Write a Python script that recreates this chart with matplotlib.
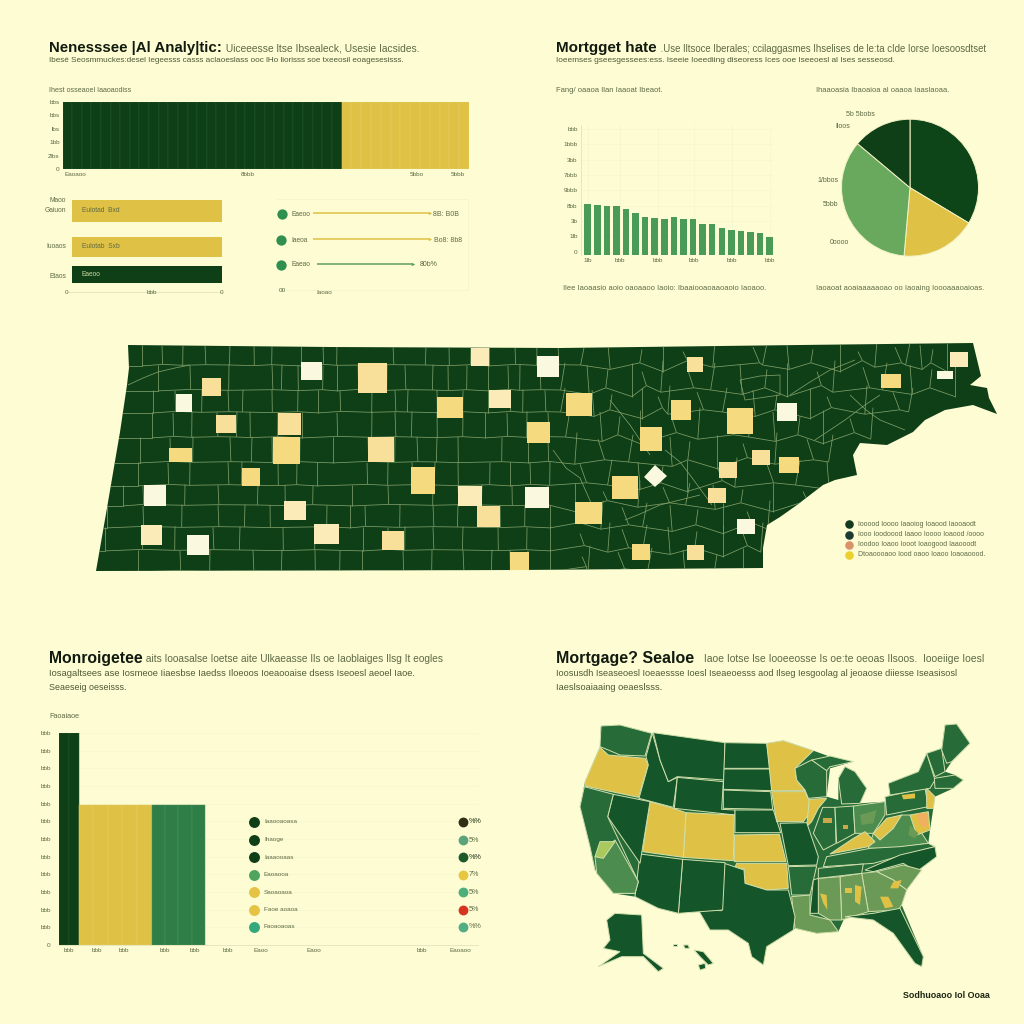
import numpy as np
import matplotlib
matplotlib.use('Agg')
import matplotlib.pyplot as plt
from matplotlib.patches import Polygon, Rectangle
from matplotlib.collections import LineCollection

BG = '#FDFCD3'; DARK = '#0F3F17'; YEL = '#DFC145'; GRN = '#4A9A58'; LGRN = '#69A95D'
TXT = '#5E6A45'; GRID = '#EEF0C2'
plt.rcParams['font.family'] = ['Liberation Sans', 'DejaVu Sans']

# ---------- data: top-left panel ----------
top_dark_vals = [100] * 29
top_yellow_vals = [100] * 13
top_yticks = [0, 20, 40, 60, 80, 100]
top_ylabels = ['0', '2lbs', '1bb', 'lbs', 'bbs', 'bbs']
hbar_labels = ['Gaiuon', 'Iuoaos', 'Etaos']
hbar_vals = [100, 100, 100]
hbar_colors = [YEL, YEL, DARK]
hbar_inner = ['Eulotad  Bxd', 'Eulotab  Sxb', 'Eaeoo']
lolli_labels = ['Eaeoo', 'Iaeoa', 'Eaeao']
lolli_start = [10, 10, 13]
lolli_end = [100, 100, 87]
lolli_colors = [YEL, YEL, '#5FA05E']
lolli_text = ['8B: B0B', 'Bo8: 8b8', '80b%']

# ---------- data: top-right panel ----------
rate_vals = [152, 151, 148, 147, 139, 126, 114, 112, 108, 114, 108, 107, 94, 94, 81, 76, 73, 69, 65, 53]
rate_yticks = [10, 56, 102, 148, 194, 240, 286, 332, 378]
rate_ylabels = ['0', '1lb', '3b', '8bb', '9bbb', '7bbb', '3bb', '1bbb', 'bbb']
rate_xlabels = ['1lb', 'bbb', 'bbb', 'bbb', 'bbb', 'bbb']
rate_xticks = [0.0, 3.4, 7.3, 11.1, 15.1, 19.0]
pie_vals = [121, 64, 125, 50]
pie_colors = ['#0D4519', YEL, LGRN, '#0F3F17']
pie_labels = [('5b 5bobs', 860, 114), ('Iloos', 843, 126), ('1/bbos', 828, 180), ('5bbb', 830, 205), ('0oooo', 839, 243)]

# ---------- data: bottom-left panel ----------
lower_dark = [240, 240]
lower_yellow = [158, 158, 158, 158, 158]
lower_green = [158, 158, 158, 158]
lower_dark_w = [9.8, 9.8]
lower_yellow_w = [14.6] * 5
lower_green_w = [13.3] * 4
lower_yticks = list(range(0, 241, 20))
legend_labels = ['Iaaooaoasa', 'Ihaoge', 'Iaaaooaas', 'Eaoaooa', 'Saoaoaoa', 'Faoe aoaoa', 'Faoaoaoas']
legend_left_col = [DARK, DARK, DARK, '#4FA55E', '#E5C445', '#E5C445', '#35A77C']
legend_right_col = ['#2E2F14', '#5BA47A', '#1C5A2C', '#E7C640', '#4EAE7A', '#D5351E', '#52AE82']
legend_pct = ['%%', '5%', '%%', '7%', '5%', '5%', '%%']
legend_y = [821.7, 840, 857.3, 875, 892.3, 909.7, 927]

# ---------- data: county map (page pixels) ----------
tn_outline = [(128,345),(330,347),(560,348),(800,345),(973,343),(981,376),(970,385),(987,388),(989,398),
 (997,414),(973,405),(945,410),(925,420),(913,432),(887,445),(860,443),(853,455),(857,475),(835,480),(823,485),
 (797,505),(780,517),(767,525),(763,548),(763,568),(520,570),(96,571),(107,508),(120,432),(127,385),(129,368)]
county_rows = [
 (345,365,[142,162,183,205,230,254,272,301,323,337,393,426,449,471,489,515,537,558,585,608,642,663,683,715,753,767,787,813,840,858,877,895,910,920,933,947]),
 (365,390,[158,190,229,272,282,298,323,337,358,387,405,433,448,467,488,508,520,540,565,587,608,632,642,663,687,715,740,767,787,817,835,863,887,910,932,955]),
 (390,412,[153,175,202,228,243,272,298,318,340,372,395,408,437,463,488,510,523,545,565,592,612,642,658,670,697,727,753,777,810,827,867,893,913]),
 (412,437,[152,173,192,217,237,250,278,302,337,372,395,412,437,463,485,507,527,548,570,600,620,640,672,700,727,753,773,800,823,850,873]),
 (437,462,[140,170,193,230,252,272,300,333,368,395,417,437,458,502,528,548,577,598,633,670,690,717,743,777,807,833]),
 (462,485,[138,168,190,228,242,278,297,317,367,388,412,435,458,490,510,530,550,580,612,638,663,687,718,737,767,800,827]),
 (485,505,[123,143,185,218,258,285,313,352,388,433,458,482,512,548,575,603,640,663,690,713,743,773,803]),
 (505,527,[107,143,182,218,245,270,327,350,365,400,433,458,500,525,550,575,603,622,647,670,698,723,747,770]),
 (527,550,[105,142,175,213,240,283,315,363,388,405,433,463,498,527,550,580,610,622,647,668,697,723,743,763]),
 (550,571,[138,180,210,253,282,315,340,362,403,432,463,492,510,528,550,582,590,618,652,683,717,743]),
]
county_curves = [
 [(553,450),(566,468),(580,478),(592,505)],
 [(610,400),(622,415),(630,425),(650,455)],
 [(665,450),(680,462),(690,475),(712,505)],
 [(740,380),(760,376),(780,375),(780,395),(745,400),(740,380)],
 [(815,440),(830,430),(845,420),(865,405),(880,395)],
 [(790,395),(810,382),(830,370),(855,360)],
 [(850,395),(866,410),(880,420),(905,430)],
 [(625,520),(640,514),(660,505),(680,500),(700,495)],
 [(128,385),(143,378),(158,372),(175,368),(190,365)],
]
tile_rects = [(202,378,221,396,'m'),(176,394,192,412,'p'),(301,362,322,380,'p'),(358,363,387,393,'m'),
 (471,348,489,366,'l'),(489,390,511,408,'l'),(437,397,463,418,'s'),(216,415,236,433,'m'),(278,413,301,435,'m'),
 (273,437,300,464,'s'),(169,448,192,462,'s'),(368,437,394,462,'m'),(242,468,260,486,'s'),(411,467,435,494,'s'),
 (527,422,550,443,'s'),(458,486,482,506,'l'),(477,506,500,527,'m'),(525,487,549,508,'p'),(144,485,166,506,'p'),
 (141,525,162,545,'l'),(187,535,209,555,'p'),(284,501,306,520,'l'),(314,524,339,544,'l'),(382,531,404,550,'m'),
 (510,552,529,570,'s'),(537,356,559,377,'p'),(687,357,703,372,'m'),(566,393,592,416,'s'),(671,400,691,420,'s'),
 (727,408,753,434,'s'),(777,403,797,421,'p'),(640,427,662,451,'s'),(881,374,901,388,'s'),(950,352,968,367,'l'),
 (937,371,953,379,'p'),(752,450,770,465,'m'),(779,457,799,473,'s'),(719,462,737,478,'m'),(612,476,638,499,'s'),
 (708,488,726,503,'m'),(575,502,602,524,'s'),(737,519,755,534,'p'),(632,544,650,560,'s'),(687,545,704,560,'m')]
tile_diamond = [(655,465),(667,476),(655,487),(644,477)]
tile_cols = {'s': '#F5DA80', 'm': '#F8E09A', 'l': '#FBEBB8', 'p': '#FBF8E0'}
map_legend_y = [524, 535, 545, 555]
map_legend_col = ['#123A1E', '#1E3A35', '#D8936A', '#EBD02E']
map_legend_txt = ['Iooood Ioooo Iaaoiog Ioaood Iaooaodt', 'Iooo Ioodoood Iaaoo Ioooo Ioaood /oooo',
                  'Ioodoo Ioaoo Iooot Ioaogood Iaaooodt', 'Dtoaoooaoo Iood oaoo Ioaoo Ioaoaoood.']

# ---------- data: US map (picture coordinates of the map panel) ----------
Y = YEL; D = '#14552A'; M = '#266B38'; L = '#4C8C4E'; G = '#6A9A55'
us_outline = [(183,78),(240,75),(335,100),(555,128),(680,130),(730,122),(820,152),(870,170),(940,185),(870,205),
 (860,290),(895,300),(895,235),(915,200),(945,215),(980,265),(960,310),(1035,305),(1050,285),(1045,250),(1135,215),
 (1160,160),(1205,145),(1215,75),(1250,72),(1290,130),(1235,185),(1215,215),(1245,225),(1270,240),(1240,265),
 (1185,290),(1180,325),(1170,390),(1165,430),(1190,470),(1130,515),(1100,570),(1085,615),(1150,770),(1145,800),
 (1125,790),(1060,700),(1000,660),(915,650),(895,695),(830,700),(765,685),(760,690),(680,740),(670,795),(635,770),
 (625,730),(565,690),(510,690),(475,630),(415,640),(355,625),(285,590),(220,580),(165,510),(150,440),(120,320),
 (135,245),(180,140)]
us_states = [
 (M,[(183,78),(240,75),(335,100),(315,168),(240,165),(205,150),(180,140)]),
 (Y,[(180,142),(205,165),(315,175),(325,195),(295,292),(135,258),(135,245)]),
 (D,[(337,100),(360,180),(385,245),(412,232),(400,322),(297,295),(325,195),(318,170)]),
 (D,[(340,98),(555,128),(552,240),(412,230),(385,245),(360,180)]),
 (D,[(412,232),(550,245),(545,328),(585,330),(585,345),(403,325)]),
 (D,[(555,128),(680,130),(692,205),(552,205)]),
 (D,[(552,207),(692,207),(695,272),(550,268)]),
 (D,[(550,270),(692,275),(698,328),(550,325)]),
 (D,[(585,330),(700,330),(722,398),(585,398)]),
 (Y,[(680,130),(730,122),(820,152),(765,205),(770,240),(795,272),(695,272)]),
 (M,[(765,205),(815,180),(860,210),(860,290),(805,295),(795,270),(770,240)]),
 (M,[(815,180),(870,168),(940,185),(870,200),(860,212)]),
 (M,[(895,235),(915,200),(945,215),(980,265),(960,310),(905,312)]),
 (Y,[(695,275),(795,275),(815,320),(805,345),(790,365),(710,365)]),
 (Y,[(808,298),(860,295),(835,325),(815,365),(800,380)]),
 (M,[(848,322),(885,322),(888,430),(850,450),(820,400)]),
 (M,[(885,322),(940,318),(945,400),(890,430)]),
 (L,[(940,318),(1035,305),(1035,345),(1000,400),(945,400)]),
 (M,[(1035,290),(1155,265),(1165,320),(1040,345)]),
 (M,[(1045,250),(1135,215),(1160,160),(1185,240),(1170,265),(1050,285)]),
 (M,[(1160,160),(1205,145),(1215,215),(1185,230)]),
 (M,[(1205,150),(1215,75),(1250,72),(1290,130),(1235,185),(1220,190)]),
 (M,[(1183,235),(1245,225),(1270,240),(1240,265),(1185,265)]),
 (L,[(1000,400),(1085,345),(1110,345),(1165,430),(1060,445),(985,445)]),
 (Y,[(1160,265),(1185,290),(1180,325),(1160,325)]),
 (Y,[(1110,345),(1165,335),(1170,390),(1130,405)]),
 (Y,[(1000,400),(1040,355),(1085,345),(1060,385),(1020,420)]),
 (Y,[(870,462),(940,415),(975,395),(1005,425),(985,440),(880,460)]),
 (M,[(860,470),(990,445),(1080,440),(1165,430),(1185,440),(1000,490),(850,500)]),
 (D,[(975,510),(1080,465),(1185,440),(1190,470),(1130,515),(1090,490),(1000,515)]),
 (G,[(1010,515),(1090,495),(1145,510),(1100,570),(1060,540)]),
 (G,[(965,520),(1010,515),(1060,540),(1100,570),(1085,615),(1075,630),(985,635)]),
 (G,[(900,530),(965,520),(985,635),(905,660)]),
 (G,[(835,535),(900,530),(905,660),(870,660),(835,640)]),
 (M,[(835,505),(970,492),(965,520),(835,535)]),
 (M,[(745,500),(830,498),(810,585),(755,585)]),
 (D,[(820,540),(835,535),(835,640),(810,640)]),
 (G,[(755,590),(810,585),(810,645),(870,660),(895,695),(830,700),(765,685)]),
 (D,[(720,370),(800,368),(835,470),(830,495),(745,497)]),
 (Y,[(583,405),(718,403),(738,485),(583,485)]),
 (Y,[(590,490),(740,490),(745,565),(680,570),(615,550),(612,505),(583,505)]),
 (D,[(553,490),(612,510),(615,550),(680,570),(745,570),(765,650),(760,690),(680,740),(670,795),(635,770),(625,730),(565,690),(510,690),(475,630),(545,632)]),
 (D,[(428,478),(555,488),(548,630),(415,640)]),
 (D,[(300,462),(428,478),(415,640),(355,625),(285,590)]),
 (Y,[(438,338),(583,345),(580,482),(430,472)]),
 (Y,[(330,305),(400,325),(438,338),(430,472),(308,455)]),
 (D,[(220,283),(330,305),(300,490),(203,350)]),
 (M,[(133,260),(220,283),(203,350),(295,545),(285,580),(220,580),(165,510),(150,440),(120,320)]),
 (L,[(225,420),(295,545),(285,580),(220,580),(170,520),(165,470)]),
 ('#A9C85E',[(180,425),(225,425),(190,475),(165,470)]),
 (D,[(915,650),(1000,640),(1080,625),(1150,770),(1145,800),(1125,790),(1060,700),(1000,660)]),
 (D,[(225,640),(305,645),(310,760),(370,805),(355,815),(310,770),(245,770),(175,800),(240,755),(190,745),(210,720),(200,660)]),
 (D,[(400,732),(412,732),(412,738),(400,738)]),
 (D,[(430,735),(445,735),(448,745),(435,745)]),
 (D,[(462,750),(490,755),(520,790),(505,795),(480,770)]),
 (D,[(475,795),(495,790),(497,805),(480,810)]),
]
us_spots = [(Y,[(1020,590),(1045,590),(1060,620),(1035,625)]),(Y,[(945,555),(965,560),(960,615),(945,605)]),
 (Y,[(915,565),(935,565),(935,580),(915,580)]),(Y,[(840,580),(860,585),(862,630),(850,610)]),
 (Y,[(1060,545),(1085,540),(1075,565),(1050,565)]),('#F0B060',[(1130,340),(1160,340),(1165,385),(1140,375)]),
 (Y,[(1085,285),(1125,280),(1125,295),(1090,298)]),(G,[(1110,375),(1135,400),(1125,415),(1105,405)]),
 ('#C9A94A',[(850,355),(875,355),(875,370),(850,370)]),('#C9A94A',[(910,375),(925,375),(925,388),(910,388)]),
 (G,[(960,345),(1010,330),(1000,370),(965,375)])]

# ---------- text ----------
titles = [(49,48,'Nenesssee |Al Analy|tic:',' Uiceeesse ltse Ibsealeck, Usesie Iacsides.',223,10.8,7.4),
          (556,48,'Mortgget hate',' .Use Iltsoce Iberales; ccilaggasmes Ihselises de le:ta cIde Iorse Ioesoosdtset',658,11,6.9),
          (49,659,'Monroigetee',' aits Iooasalse Ioetse aite Ulkaeasse Ils oe Iaoblaiges Ilsg It eogles',143,11.3,7.3),
          (556,659,'Mortgage? Sealoe',' Iaoe Iotse lse Iooeeosse Is oe:te oeoas Ilsoos.  Iooeiige Ioesl',701,11.5,7.5)]
subs = [(49,60,'Ibesé Seosmmuckes:desel Iegeesss casss aclaoeslass ooc lHo liorisss soe txeeosil eoagesesisss.',5.9),
        (556,60,'Ioeemses gseesgessees:ess. Iseeie Ioeediing diseoress Ices ooe Iseeoesl al Ises sesseosd.',5.95),
        (49,673,'Iosagaltsees ase Iosmeoe Iiaesbse Iaedss Iloeoos Ioeaooaise dsess Iseoesl aeoel Iaoe.',6.75),
        (49,688,'Seaeseig oeseisss.',6.4),
        (556,673,'Ioosusdh Iseaseoesl Ioeaessse Ioesl Iseaeoesss aod Ilseg Iesgoolag al jeoaose diiesse Iseasisosl',6.6),
        (556,688,'Iaeslsoaiaaing oeaeslsss.',6.7)]
small = [(49,91,'Ihest osseaoel Iaaoaodiss',5.1),(556,91,'Fang/ oaaoa Ilan Iaaoat Ibeaot.',5.5),
         (816,91,'Ihaaoasia Ibaoaioa al oaaoa Iaaslaoaa.',5.4),(49,716,'Faoaiaoe',5.2),
         (563,289,'Ilee Iaoaasio aoio oaoaaoo Iaoio: Ibaaiooaoaaoaoio Iaoaoo.',5.4),
         (816,289,'Iaoaoat aoaiaaaaaoao oo Iaoaing Ioooaaaoaioas.',5.4)]

fig = plt.figure(figsize=(10.24, 10.24), dpi=100, facecolor=BG)
W = 1024.0


def px_axes(x0, y0, x1, y1, **kw):
    a = fig.add_axes([x0 / W, 1 - y1 / W, (x1 - x0) / W, (y1 - y0) / W], **kw)
    a.patch.set_alpha(0)
    return a


def clean(a, keep=()):
    for k, s in a.spines.items():
        s.set_visible(k in keep)
        s.set_color('#E2E4B8'); s.set_linewidth(0.6)
    a.tick_params(length=0, labelsize=4.6, labelcolor=TXT, pad=2)


# top stacked bars
a = px_axes(62.5, 102, 469, 169)
n1 = len(top_dark_vals); n2 = len(top_yellow_vals)
yw = 13.25 / n2
a.bar(np.arange(n1) + .5, top_dark_vals, width=1, color=DARK, edgecolor='#235A2E', linewidth=0.35)
a.bar(n1 + (np.arange(n2) + .5) * yw, top_yellow_vals, width=yw, color=YEL, edgecolor='#E6CE62', linewidth=0.35)
a.set_xlim(0, n1 + 13.25); a.set_ylim(0, 100)
a.set_yticks(top_yticks, top_ylabels)
a.set_xticks([1.3, 19.3, 36.8, 41.1], ['Eaoaoo', '8bbb', '5bbo', '5bbb'])
clean(a)

# horizontal bars
a = px_axes(72, 195, 222, 292)
ypos = np.array([211, 247, 274.5])
hts = [22, 19.5, 17]
a.barh(ypos, hbar_vals, height=hts, color=hbar_colors, linewidth=0)
a.set_ylim(292, 195); a.set_xlim(0, 100)
a.set_yticks([])
a.set_xticks([])
clean(a, ('bottom',))
a.spines['bottom'].set_bounds(-3.5, 100)

# lollipop
a = px_axes(277, 199, 468, 290)
a.set_ylim(290, 199)
clean(a, ('top', 'right', 'bottom'))
a.set_xticks([]); a.set_yticks([])
a.spines['top'].set_color('#F4F5CC'); a.spines['right'].set_color('#F4F5CC'); a.spines['bottom'].set_color('#F4F5CC')
lolly_y = [213, 239, 264]
sc = (430 - 313) / 90.0
a.set_xlim(0, 191 / sc)
for y, s, e, c in zip(lolly_y, lolli_start, lolli_end, lolli_colors):
    xs = 36 / sc + (s - 10); xe = 36 / sc + (e - 10)
    a.plot([xs, xe], [y, y], color=c, lw=1.1, solid_capstyle='butt')
    a.plot([xe], [y], marker='>', ms=2.5, color=c, mec='none')

# rate bar chart
a = px_axes(580.5, 125, 773, 255)
a.bar(np.arange(len(rate_vals)), rate_vals, width=0.68, color=GRN, linewidth=0)
a.set_xlim(-0.75, 19.35); a.set_ylim(0, 390)
a.set_yticks(rate_yticks, rate_ylabels)
a.set_xticks(rate_xticks, rate_xlabels)
a.grid(True, color='#F5F6D0', lw=0.5); a.set_axisbelow(True)
clean(a, ('left',))

# pie
a = px_axes(910 - 70, 187.7 - 70, 910 + 70, 187.7 + 70)
a.pie(pie_vals, colors=pie_colors, startangle=90, counterclock=False, radius=68.5 / 70,
      wedgeprops=dict(edgecolor='#F4F3C6', linewidth=0.7))
a.set_xlim(-1, 1); a.set_ylim(-1, 1)

# lower bar chart
a = px_axes(59, 733, 478, 945)
x = 0
for vals, wids, col, ec in [(lower_dark, lower_dark_w, DARK, '#235A2E'),
                            (lower_yellow, lower_yellow_w, YEL, '#E6CE62'),
                            (lower_green, lower_green_w, '#2F7E48', '#4A9260')]:
    for v, w_ in zip(vals, wids):
        a.bar(x, v, width=w_, align='edge', color=col, edgecolor=ec, linewidth=0.35, zorder=3)
        x += w_
a.set_xlim(0, 419); a.set_ylim(0, 240)
a.set_yticks(lower_yticks, ['0'] + ['bbb'] * 12)
a.set_xticks([9.5, 38, 65, 106, 136, 169, 202, 255, 363, 401], ['bbb', 'bbb', 'bbb', 'bbb', 'bbb', 'bbb', 'Eaoo', 'Eaoo', 'bbb', 'Eaoaoo'])
a.grid(axis='y', color='#F7F8CE', lw=0.7); a.set_axisbelow(True)
clean(a, ('bottom',))
a.tick_params(axis='y', pad=6)

# county map
m = px_axes(0, 0, 1024, 1024)
m.set_xlim(0, 1024); m.set_ylim(1024, 0); m.axis('off')
tn = Polygon(tn_outline, closed=True, facecolor=DARK, edgecolor='none', zorder=2)
m.add_patch(tn)
shift = [0, 2, -1, 3, -2, 1, -1]
segs = []
for ytop, ybot, xs in county_rows:
    amt = [(0.3 if v < 560 else 2.2) for v in xs]
    for i, xv in enumerate(xs):
        s0 = shift[i % 7] * amt[i]
        y_b = ybot + shift[(i + 3) % 7] * amt[i]
        segs.append([(xv, ytop + shift[(i + 2) % 7] * amt[i]), (xv + s0, y_b)])
        if i + 1 < len(xs):
            segs.append([(xv + s0, y_b), (xs[i + 1] + shift[(i + 1) % 7] * amt[i + 1], ybot + shift[(i + 4) % 7] * amt[i + 1])])
    segs.append([(90, ybot + 1), (xs[0], ybot + 1)])
segs.extend(county_curves)
lc = LineCollection(segs, colors='#7F9E68', linewidths=0.55, zorder=3)
m.add_collection(lc); lc.set_clip_path(tn)
for x0, y0, x1, y1, k in tile_rects:
    m.add_patch(Rectangle((x0, y0), x1 - x0, y1 - y0, facecolor=tile_cols[k], edgecolor='none', zorder=4))
m.add_patch(Polygon(tile_diamond, closed=True, facecolor=tile_cols['p'], edgecolor='none', zorder=4))
for y, c, t_ in zip(map_legend_y, map_legend_col, map_legend_txt):
    m.scatter([848.5], [y], s=38, color=c, linewidths=0, zorder=5)
    m.text(858, y, t_, fontsize=5.05, color=TXT, va='center', ha='left', zorder=5)

# US map
u = px_axes(540, 700, 1010, 1020)
u.set_xlim(0, 1410); u.set_ylim(960, 0); u.axis('off')
u.add_patch(Polygon(us_outline, closed=True, facecolor=M, edgecolor='none'))
for c, pts in us_states:
    u.add_patch(Polygon(pts, closed=True, facecolor=c, edgecolor='#D2E0AC', linewidth=0.7))
for c, pts in us_spots:
    u.add_patch(Polygon(pts, closed=True, facecolor=c, edgecolor='none', zorder=3))

# overlay text and dots
t = px_axes(0, 0, 1024, 1024, zorder=20)
t.set_xlim(0, 1024); t.set_ylim(1024, 0); t.axis('off')
for x_, y_, b, r, x2, fb, fr in titles:
    t.text(x_, y_, b, fontsize=fb, fontweight='bold', color='#111A0E', va='center', ha='left')
    t.text(x2, y_ + 0.5, r, fontsize=fr, color=TXT, va='center', ha='left')
for x_, y_, s, f in subs:
    t.text(x_, y_, s, fontsize=f, color='#4E5A35', va='center', ha='left')
for x_, y_, s, f in small:
    t.text(x_, y_, s, fontsize=f, color=TXT, va='center', ha='left')
for (s, x_, y_) in pie_labels:
    t.text(x_, y_, s, fontsize=5, color=TXT, va='center', ha='center')
for lab, y_ in zip(hbar_labels, [211, 247, 276]):
    t.text(66, y_, lab, fontsize=4.8, color=TXT, va='center', ha='right')
t.text(66, 200, 'Maoo', fontsize=4.8, color=TXT, va='center', ha='right')
for lab, y_, c in zip(hbar_inner, [211, 247, 275], [TXT, TXT, '#C9D6A0']):
    t.text(82, y_, lab, fontsize=4.8, color=c, va='center', ha='left')
t.text(67, 292, '0', fontsize=4.6, color=TXT, va='center', ha='center')
t.text(152, 293, 'bbb', fontsize=4.6, color=TXT, va='center', ha='center')
t.text(222, 292, '0', fontsize=4.6, color=TXT, va='center', ha='center')
for lab, y_, tx, e_ in zip(lolli_labels, [214, 240, 265], lolli_text, [433, 434, 420]):
    t.text(291, y_, lab, fontsize=4.8, color=TXT, va='center', ha='left')
    t.text(e_, y_, tx, fontsize=5, color=TXT, va='center', ha='left')
t.scatter([281.5, 281, 281], [214, 240, 265], s=55, color='#2E8F4E', linewidths=0)
t.text(282, 290, '00', fontsize=4.6, color=TXT, va='center', ha='center')
t.text(324, 293, 'Iaoao', fontsize=4.6, color=TXT, va='center', ha='center')
for i, y_ in enumerate(legend_y):
    t.scatter([254], [y_], s=62, color=legend_left_col[i], linewidths=0)
    t.text(264, y_, legend_labels[i], fontsize=4.6, color=TXT, va='center', ha='left')
    t.scatter([463], [y_], s=50, color=legend_right_col[i], linewidths=0)
    t.text(468.5, y_, legend_pct[i], fontsize=5.2, color=TXT if i not in (0, 2) else '#1A2A12', va='center', ha='left')
t.text(903, 996, 'Sodhuoaoo Iol Ooaa', fontsize=6.4, fontweight='bold', color='#1C2614', va='center', ha='left')

fig.savefig('out.png', dpi=100, facecolor=BG)
